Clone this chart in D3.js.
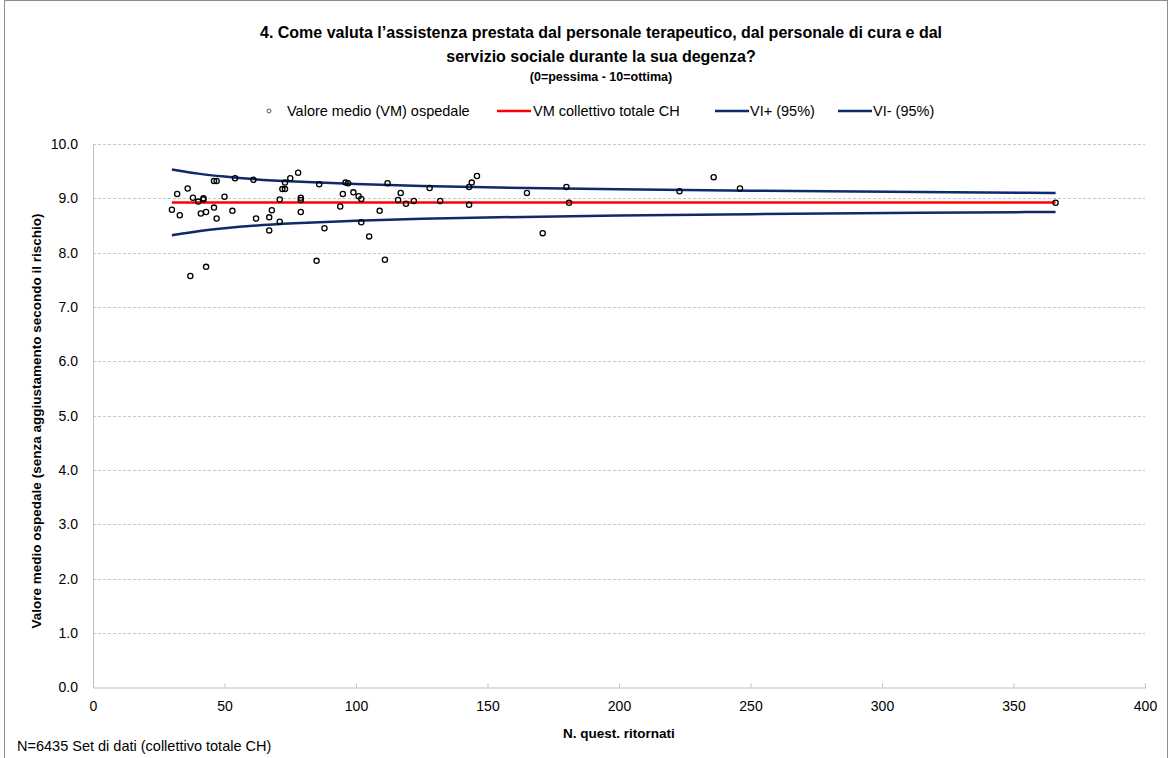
<!DOCTYPE html>
<html>
<head>
<meta charset="utf-8">
<script src="https://cdn.jsdelivr.net/npm/d3@7"></script>
<style>
  body { margin: 0; background: #fff; }
  text { font-family: "Liberation Sans", Arial, sans-serif; fill: #000; }
</style>
</head>
<body>
<div id="chart"></div>
<script>
// hospital points: questionnaires returned vs mean score
const hospitalN = [30, 32, 33, 36, 37, 38, 40, 41, 42, 42, 43, 43, 46, 47, 46, 47, 50, 53, 54, 61,
  62, 67, 67, 68, 71, 71, 72, 73, 73, 75, 78, 79, 79, 79, 85, 86, 88, 94, 95, 96,
  97, 99, 101, 102, 102, 105, 109, 111, 112, 116, 117, 119, 122, 128, 132, 143, 143, 144, 146, 165,
  180, 181, 171, 223, 236, 246, 366];
const hospitalMean = [8.79, 9.08, 8.69, 9.18, 7.57, 9.01, 8.94, 8.72, 9.00, 8.98, 8.75, 7.74, 9.32, 9.32, 8.83, 8.63, 9.03, 8.77, 9.37, 9.34,
  8.63, 8.65, 8.41, 8.78, 8.57, 8.98, 9.17, 9.17, 9.29, 9.37, 9.47, 9.01, 8.97, 8.75, 7.85, 9.26, 8.45, 8.85, 9.08, 9.29,
  9.28, 9.11, 9.04, 8.99, 8.56, 8.30, 8.77, 7.87, 9.28, 8.97, 9.10, 8.90, 8.95, 9.19, 8.95, 9.21, 8.88, 9.29, 9.41, 9.10,
  9.21, 8.92, 8.36, 9.13, 9.39, 9.18, 8.92];

// collective mean (CH)
const totalN = [30, 366];
const totalMean = [8.925, 8.925];

// confidence band
const bandN = [30, 40, 50, 60, 75, 100, 125, 150, 200, 250, 300, 366];
const bandUpper = [9.53, 9.45, 9.40, 9.355, 9.31, 9.26, 9.225, 9.20, 9.165, 9.14, 9.12, 9.10];
const bandLower = [8.32, 8.40, 8.45, 8.495, 8.54, 8.59, 8.625, 8.65, 8.685, 8.71, 8.73, 8.75];

const xTicks = [0, 50, 100, 150, 200, 250, 300, 350, 400];
const yTicks = [0, 1, 2, 3, 4, 5, 6, 7, 8, 9, 10];

const W = 1171, H = 758;
const svg = d3.select('#chart').append('svg').attr('width', W).attr('height', H);

svg.append('rect').attr('x', 4.5).attr('y', 0.5).attr('width', 1163).attr('height', H + 5)
  .attr('fill', '#fff').attr('stroke', '#8c8c8c').attr('stroke-width', 1);

const x = d3.scaleLinear().domain([0, 400]).range([93, 1145]);
const y = d3.scaleLinear().domain([0, 10]).range([687.5, 144]);

// title
const title = svg.append('g').attr('font-weight', 'bold').attr('text-anchor', 'middle');
title.append('text').attr('x', 601).attr('y', 38).attr('font-size', 16)
  .text('4. Come valuta l’assistenza prestata dal personale terapeutico, dal personale di cura e dal');
title.append('text').attr('x', 601).attr('y', 62).attr('font-size', 16)
  .text('servizio sociale durante la sua degenza?');
title.append('text').attr('x', 601).attr('y', 81).attr('font-size', 12.5)
  .text('(0=pessima - 10=ottima)');

// gridlines
svg.append('g').selectAll('line').data(yTicks.filter(d => d > 0)).enter().append('line')
  .attr('x1', x(0)).attr('x2', x(400))
  .attr('y1', d => Math.round(y(d)) + 0.5).attr('y2', d => Math.round(y(d)) + 0.5)
  .attr('stroke', '#c8c8c8').attr('stroke-dasharray', '3,2');

// axes
const xAxis = svg.append('g').attr('transform', 'translate(0,' + y(0) + ')')
  .call(d3.axisBottom(x).tickValues(xTicks).tickSize(-4).tickPadding(14).tickFormat(d3.format('d')));
xAxis.select('.domain').attr('stroke', '#bfbfbf');
xAxis.selectAll('.tick line').attr('stroke', '#bfbfbf');
xAxis.selectAll('text').attr('font-size', 14).attr('font-family', '"Liberation Sans", Arial, sans-serif');

const yAxis = svg.append('g').attr('transform', 'translate(' + x(0) + ',0)')
  .call(d3.axisLeft(y).tickValues(yTicks).tickSize(0).tickPadding(15).tickFormat(d3.format('.1f')));
yAxis.select('.domain').attr('stroke', '#bfbfbf');
yAxis.selectAll('text').attr('font-size', 14).attr('font-family', '"Liberation Sans", Arial, sans-serif');

// axis titles
svg.append('text').attr('x', 619).attr('y', 738).attr('text-anchor', 'middle')
  .attr('font-weight', 'bold').attr('font-size', 13.5).text('N. quest. ritornati');
svg.append('text').attr('transform', 'translate(41,421) rotate(-90)').attr('text-anchor', 'middle')
  .attr('font-weight', 'bold').attr('font-size', 13.5)
  .text('Valore medio  ospedale (senza aggiustamento secondo il rischio)');

svg.append('text').attr('x', 17).attr('y', 751).attr('font-size', 14.5)
  .text('N=6435 Set di dati (collettivo totale CH)');

// lines
const line = d3.line().x(d => x(d[0])).y(d => y(d[1])).curve(d3.curveBasis);
svg.append('path').attr('d', line(d3.zip(bandN, bandUpper)))
  .attr('fill', 'none').attr('stroke', '#0d2a6b').attr('stroke-width', 2.5);
svg.append('path').attr('d', line(d3.zip(bandN, bandLower)))
  .attr('fill', 'none').attr('stroke', '#0d2a6b').attr('stroke-width', 2.5);
svg.append('path').attr('d', d3.line().x(d => x(d[0])).y(d => y(d[1]))(d3.zip(totalN, totalMean)))
  .attr('fill', 'none').attr('stroke', '#ff0000').attr('stroke-width', 2.5);

// points
svg.append('g').selectAll('circle').data(d3.zip(hospitalN, hospitalMean)).enter().append('circle')
  .attr('cx', d => x(d[0])).attr('cy', d => y(d[1])).attr('r', 2.6)
  .attr('fill', 'none').attr('stroke', '#000').attr('stroke-width', 1.3);

// legend
const lg = svg.append('g').attr('font-size', 14.5);
lg.append('circle').attr('cx', 269).attr('cy', 111).attr('r', 2).attr('fill', 'none')
  .attr('stroke', '#555').attr('stroke-width', 1);
lg.append('text').attr('x', 287).attr('y', 116).text('Valore medio (VM) ospedale');
lg.append('line').attr('x1', 497).attr('x2', 531).attr('y1', 111).attr('y2', 111)
  .attr('stroke', '#ff0000').attr('stroke-width', 2.5);
lg.append('text').attr('x', 533).attr('y', 116).text('VM collettivo totale CH');
lg.append('line').attr('x1', 715).attr('x2', 749).attr('y1', 111).attr('y2', 111)
  .attr('stroke', '#0d2a6b').attr('stroke-width', 2.5);
lg.append('text').attr('x', 750).attr('y', 116).text('VI+ (95%)');
lg.append('line').attr('x1', 838).attr('x2', 872).attr('y1', 111).attr('y2', 111)
  .attr('stroke', '#0d2a6b').attr('stroke-width', 2.5);
lg.append('text').attr('x', 873).attr('y', 116).text('VI- (95%)');
</script>
</body>
</html>
